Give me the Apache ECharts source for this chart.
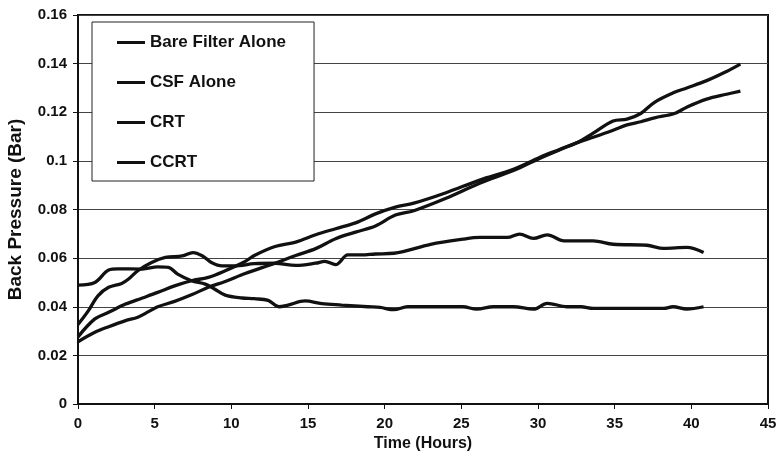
<!DOCTYPE html>
<html>
<head>
<meta charset="utf-8">
<script src="https://cdn.jsdelivr.net/npm/echarts@6/dist/echarts.min.js"></script>
<style>
html,body{margin:0;padding:0;background:#fff;}
#chart{width:778px;height:459px;}
</style>
</head>
<body>
<div id="chart"></div>
<script>
var seriesNames = ['Bare Filter Alone', 'CSF Alone', 'CRT', 'CCRT'];

var bareHours = [0, 1.1, 2.0, 3.1, 4.2, 5.2, 6.3, 7.4, 8.5, 9.6, 10.9, 11.5, 12.85, 14.2, 15.5, 16.8, 18.1, 19.4, 20.7, 21.9, 24, 26.2, 28.4, 30.1, 31.4, 32.7, 33.6, 34.9, 35.8, 36.7, 37.6, 38.9, 39.7, 41, 42.3, 43.2];
var bareValues = [0.0276, 0.035, 0.0377, 0.0411, 0.0436, 0.0459, 0.0486, 0.0507, 0.0521, 0.0548, 0.0586, 0.0611, 0.0648, 0.0666, 0.0696, 0.0721, 0.0745, 0.0782, 0.081, 0.0826, 0.0869, 0.0921, 0.0965, 0.1014, 0.1047, 0.108, 0.1114, 0.1164, 0.1172, 0.1195, 0.1241, 0.1282, 0.130, 0.133, 0.1368, 0.1398];

var csfHours = [0, 1.1, 2.0, 3.1, 3.9, 4.6, 5.2, 6.3, 7.4, 8.5, 9.6, 10.9, 12.85, 14.2, 15.5, 16.8, 18.1, 19.4, 20.7, 21.9, 24, 26.2, 28.4, 30.1, 31.4, 32.7, 33.6, 34.9, 35.8, 36.7, 37.6, 38.9, 39.7, 41, 42.3, 43.2];
var csfValues = [0.0256, 0.0295, 0.0318, 0.0343, 0.0357, 0.038, 0.040, 0.0422, 0.0449, 0.048, 0.0504, 0.0537, 0.0579, 0.0611, 0.0639, 0.068, 0.0707, 0.0732, 0.0777, 0.0795, 0.0846, 0.0908, 0.096, 0.1010, 0.1045, 0.1078, 0.1097, 0.1126, 0.1148, 0.1161, 0.1177, 0.1195, 0.1221, 0.1254, 0.1274, 0.1287];

var crtHours = [0, 0.67, 1.3, 2.0, 2.85, 3.3, 3.9, 4.8, 5.7, 6.8, 7.5, 8.1, 8.7, 9.4, 10.2, 11.5, 12.85, 14.2, 15.5, 16.1, 16.8, 17.6, 18.5, 19.4, 20.6, 23, 25.1, 26.2, 28, 28.8, 29.7, 30.6, 31.7, 33.6, 34.9, 37.1, 38.2, 39.7, 40.8];
var crtValues = [0.0327, 0.0383, 0.0445, 0.048, 0.0496, 0.0514, 0.0548, 0.0582, 0.0603, 0.0609, 0.0623, 0.061, 0.0582, 0.0568, 0.0568, 0.0577, 0.0579, 0.057, 0.0579, 0.0587, 0.0573, 0.0613, 0.0613, 0.0617, 0.062, 0.0657, 0.0678, 0.0685, 0.0685, 0.0699, 0.0681, 0.0696, 0.0671, 0.0671, 0.0657, 0.0653, 0.064, 0.0644, 0.0623];

var ccrtHours = [0, 1.1, 2.0, 2.6, 4.2, 5.2, 5.9, 6.5, 7.4, 8.3, 8.9, 9.6, 10.7, 11.5, 12.4, 13.1, 13.7, 14.8, 15.9, 17.2, 18.9, 19.7, 20.6, 21.5, 25.1, 26, 27.1, 28.4, 29.7, 30.6, 31.9, 32.8, 33.6, 38.2, 38.8, 39.7, 40.8];
var ccrtValues = [0.0489, 0.050, 0.0551, 0.0556, 0.0555, 0.0564, 0.0562, 0.0534, 0.0507, 0.0493, 0.0473, 0.0448, 0.0436, 0.0433, 0.0426, 0.040, 0.0407, 0.0424, 0.0413, 0.0407, 0.040, 0.0397, 0.0388, 0.040, 0.040, 0.039, 0.040, 0.040, 0.039, 0.0414, 0.040, 0.040, 0.0393, 0.0393, 0.040, 0.039, 0.040];

var xTicks = [0, 5, 10, 15, 20, 25, 30, 35, 40, 45];
var yTickLabels = ['0', '0.02', '0.04', '0.06', '0.08', '0.1', '0.12', '0.14', '0.16'];

function pairs(xs, ys) {
  return xs.map(function (x, i) { return [x, ys[i]]; });
}

var allData = [
  pairs(bareHours, bareValues),
  pairs(csfHours, csfValues),
  pairs(crtHours, crtValues),
  pairs(ccrtHours, ccrtValues)
];

var FONT = '"Liberation Sans", Arial, sans-serif';
var chart = echarts.init(document.getElementById('chart'), null, {renderer: 'canvas'});

chart.setOption({
  animation: false,
  backgroundColor: '#ffffff',
  grid: {
    left: 78, right: 10, top: 15, bottom: 55,
    containLabel: false,
    outerBoundsMode: 'none',
    show: true, borderColor: '#111', borderWidth: 2, backgroundColor: 'transparent'
  },
  legend: {
    data: seriesNames,
    orient: 'vertical',
    left: 92,
    top: 22,
    backgroundColor: '#fff',
    borderColor: '#222',
    borderWidth: 1,
    padding: [12, 28, 10, 25],
    itemGap: 23,
    itemWidth: 28,
    itemHeight: 3,
    icon: 'rect',
    itemStyle: {color: '#111'},
    textStyle: {fontFamily: FONT, fontWeight: 'bold', fontSize: 17, color: '#111'}
  },
  xAxis: {
    type: 'value',
    min: 0, max: 45, interval: 5,
    name: 'Time (Hours)',
    nameLocation: 'middle',
    nameGap: 29,
    nameTextStyle: {fontFamily: FONT, fontWeight: 'bold', fontSize: 16, color: '#111'},
    axisLine: {show: true, lineStyle: {color: '#111', width: 2}},
    axisTick: {show: true, length: 5, lineStyle: {color: '#111', width: 1}},
    axisLabel: {fontFamily: FONT, fontWeight: 'bold', fontSize: 15, color: '#111', margin: 12,
      formatter: function (v) { return xTicks.indexOf(v) >= 0 ? String(v) : ''; }},
    splitLine: {show: false}
  },
  yAxis: {
    type: 'value',
    min: 0, max: 0.16, interval: 0.02,
    name: 'Back Pressure (Bar)',
    nameLocation: 'middle',
    nameGap: 53,
    nameTextStyle: {fontFamily: FONT, fontWeight: 'bold', fontSize: 19, color: '#111'},
    axisLine: {show: true, lineStyle: {color: '#111', width: 2}},
    axisTick: {show: true, length: 5, lineStyle: {color: '#111', width: 1}},
    axisLabel: {fontFamily: FONT, fontWeight: 'bold', fontSize: 15, color: '#111', margin: 11,
      formatter: function (v) { return yTickLabels[Math.round(v / 0.02)]; }},
    splitLine: {show: true, lineStyle: {color: '#444', width: 1}}
  },
  series: seriesNames.map(function (name, i) {
    return {
      name: name,
      type: 'line',
      data: allData[i],
      smooth: 0.35,
      symbol: 'none',
      lineStyle: {color: '#111', width: 3.3},
      itemStyle: {color: '#111'}
    };
  })
});
</script>
</body>
</html>
